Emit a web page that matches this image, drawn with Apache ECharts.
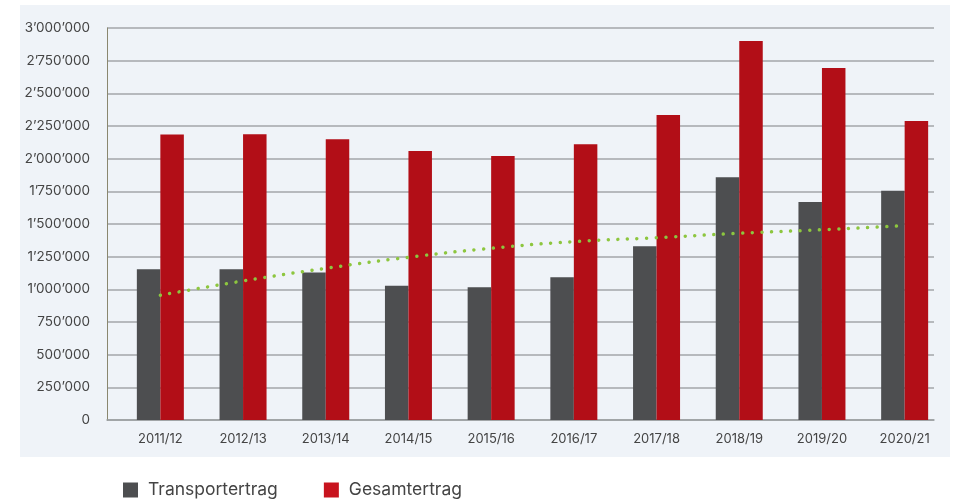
<!DOCTYPE html>
<html>
<head>
<meta charset="utf-8">
<script src="https://cdn.jsdelivr.net/npm/echarts@6/dist/echarts.min.js"></script>
<style>
  html, body { margin: 0; padding: 0; background: #ffffff; }
  .wrap { position: relative; width: 955px; height: 501px; }
  .card { position: absolute; left: 20px; top: 5px; width: 930px; height: 452px; background: #eff3f8; }
  #chart { position: absolute; left: 0; top: 0; width: 955px; height: 501px; }
</style>
</head>
<body>
<div class="wrap">
  <div class="card"></div>
  <div id="chart"></div>
</div>
<script>
// Geschäftsjahre
const years = ['2011/12', '2012/13', '2013/14', '2014/15', '2015/16', '2016/17', '2017/18', '2018/19', '2019/20', '2020/21']
// Transportertrag
const transport = [1153000, 1153000, 1128000, 1028000, 1015000, 1092000, 1329000, 1857000, 1668000, 1755000]
// Gesamtertrag
const gesamt = [2185000, 2186000, 2148000, 2059000, 2020000, 2110000, 2334000, 2900000, 2694000, 2288000]
// Trendlinie (gepunktet)
const trend = [955000, 1064000, 1161000, 1245000, 1314000, 1365000, 1395000, 1429000, 1456000, 1487000]
const yTicks = [0, 250000, 500000, 750000, 1000000, 1250000, 1500000, 1750000, 2000000, 2250000, 2500000, 2750000, 3000000]

const font = 'Inter'

function fmt (v) {
  return String(Math.round(v)).replace(/\B(?=(\d{3})+(?!\d))/g, '\u2019')
}

const chart = echarts.init(document.getElementById('chart'), null, { renderer: 'canvas' })
chart.setOption({
  animation: false,
  textStyle: { fontFamily: font },
  grid: [
    // Achsen und Gitternetz
    { left: 107, right: 21, top: 28, bottom: 81 },
    // Säulen
    { left: 119, right: 9, top: 28, bottom: 81 }
  ],
  legend: {
    left: 118,
    top: 476,
    itemWidth: 15,
    itemHeight: 15,
    itemGap: 46,
    icon: 'rect',
    textStyle: { fontSize: 17.5, color: '#444444', fontFamily: font, padding: [0, 0, 0, 5] },
    data: [
      { name: 'Transportertrag', itemStyle: { color: '#4d4e50' } },
      { name: 'Gesamtertrag', itemStyle: { color: '#c8141e' } }
    ]
  },
  xAxis: [{
    gridIndex: 0,
    type: 'category',
    data: years,
    axisLine: { show: true, lineStyle: { color: '#9a9da0', width: 1.5 } },
    axisTick: { show: false },
    axisLabel: { show: false },
    splitLine: { show: false }
  }, {
    gridIndex: 1,
    type: 'category',
    data: years,
    axisLine: { show: false },
    axisTick: { show: false },
    axisLabel: { color: '#444444', fontSize: 13, margin: 13, fontFamily: font }
  }],
  yAxis: [{
    gridIndex: 0,
    type: 'value',
    min: yTicks[0],
    max: yTicks[yTicks.length - 1],
    interval: yTicks[1] - yTicks[0],
    axisLine: { show: true, lineStyle: { color: '#8a876f', width: 1 } },
    axisTick: { show: false },
    axisLabel: { color: '#444444', fontSize: 13.5, margin: 17, fontFamily: font, formatter: fmt },
    splitLine: { show: true, lineStyle: { color: '#a3a6aa', width: 1.5 } }
  }, {
    gridIndex: 1,
    type: 'value',
    min: yTicks[0],
    max: yTicks[yTicks.length - 1],
    interval: yTicks[1] - yTicks[0],
    show: false
  }],
  series: [{
    name: 'Transportertrag',
    type: 'bar',
    xAxisIndex: 1,
    yAxisIndex: 1,
    data: transport,
    barWidth: 23.5,
    barGap: '0%',
    itemStyle: { color: '#4d4e50' }
  }, {
    name: 'Gesamtertrag',
    type: 'bar',
    xAxisIndex: 1,
    yAxisIndex: 1,
    data: gesamt,
    barWidth: 23.5,
    barGap: '0%',
    itemStyle: { color: '#b20e17' }
  }, {
    name: 'Trend',
    type: 'line',
    xAxisIndex: 1,
    yAxisIndex: 1,
    data: trend,
    smooth: true,
    symbol: 'none',
    z: 5,
    lineStyle: { color: '#8dc63f', width: 3.5, type: [0.01, 9.6], cap: 'round' }
  }]
})
</script>
</body>
</html>
